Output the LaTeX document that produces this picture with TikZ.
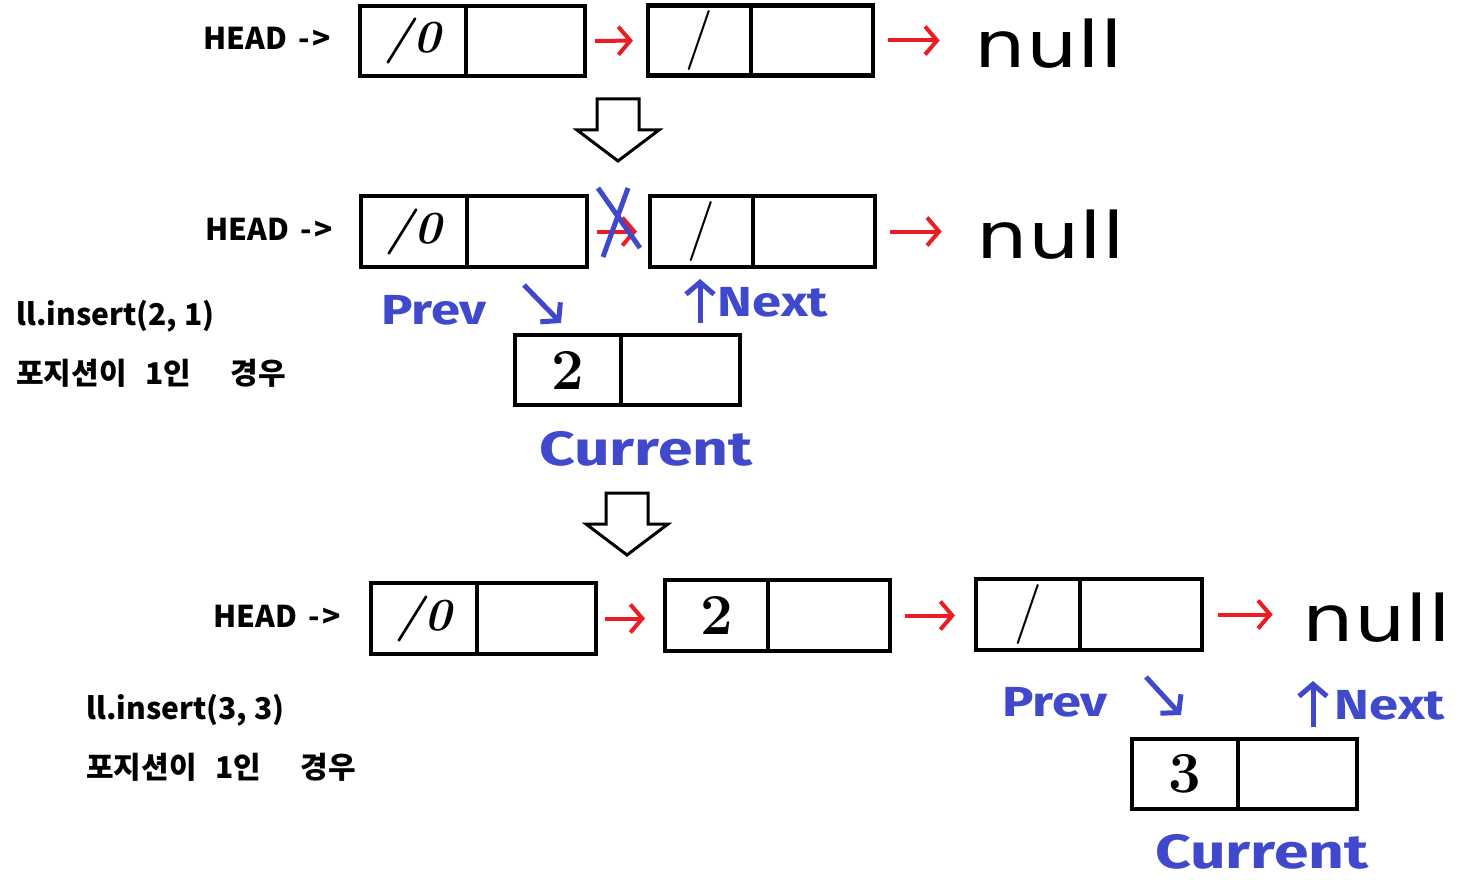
\documentclass[tikz,border=0pt]{standalone}
\usepackage{fontspec}
\newfontfamily\kr{Noto Sans CJK KR}
\newfontfamily\hand{Fira Sans}
\newfontfamily\dv{DejaVu Sans}
\usetikzlibrary{arrows.meta}
\definecolor{pblue}{RGB}{64,72,204}
\definecolor{pred}{RGB}{237,28,36}
\newcommand\bl[1]{\scalebox{1.25}[1]{\hand\bfseries\fontsize{42}{48}\selectfont #1}}
\newcommand\blc[1]{\scalebox{1.3}[1]{\hand\bfseries\fontsize{48}{52}\selectfont #1}}
\newcommand\nl{\scalebox{1.27}[1]{\dv\fontsize{64}{70}\selectfont null}}
\newcommand\lab[1]{{\kr\bfseries\fontsize{30}{36}\selectfont #1}}
\newcommand\headlab{\lab{HEAD\hspace{12pt}-\kern2pt>}}
\newcommand\poslab{\lab{포지션이\hspace{19pt}1인\hspace{39pt}경우}}
\newcommand\val[1]{{\fontsize{46}{50}\selectfont\bfseries #1}}
\newcommand\num[1]{{\fontsize{58}{60}\selectfont\bfseries #1}}
\newcommand\myslash{{\fontsize{60}{60}\selectfont /}}
\begin{document}
\begin{tikzpicture}[x=1pt,y=-1pt,
  cell/.style={draw, line width=4.5pt, outer sep=0pt, inner sep=0pt, minimum height=70pt, anchor=west},
  redarrow/.style={draw=pred, line width=4pt, -{Straight Barb[length=12pt,width=28pt,line width=4pt]}},
  bluearrow/.style={draw=pblue, line width=5pt, -{Straight Barb[length=12pt,width=28pt,line width=5pt]}},
  blockarrow/.style={draw, line width=3pt, fill=white, line join=miter},
  txt/.style={inner sep=0pt, anchor=west},
  blt/.style={inner sep=0pt, text=pblue}]
\useasboundingbox (0,0) rectangle (1472,880);

% ---------- Row 1 ----------
\node[txt] (h1) at (203,38) {\headlab};
\node[cell, minimum width=106pt] (r1aL) at (360,41) {\val{\itshape /0}};
\node[cell, minimum width=119pt] (r1aR) at (r1aL.east) {};
\node[cell, minimum width=103pt] (r1bL) at (648,40.5) {\myslash};
\node[cell, minimum width=122pt] (r1bR) at (r1bL.east) {};
\node[inner sep=0pt] (n1) at (1049,44) {\nl};
\draw[redarrow, shorten <=10pt, shorten >=15pt] (r1aR.east) -- (r1bL.west);
\draw[redarrow, shorten <=15pt, shorten >=35pt] (r1bR.east) -- (n1.west |- r1bR.east);

\draw[blockarrow] (597,99) -- (639,99) -- (639,130) -- (659,130) -- (618,161) -- (577,130) -- (597,130) -- cycle;

% ---------- Row 2 ----------
\node[txt] (h2) at (205,229) {\headlab};
\node[cell, minimum width=106pt, minimum height=71pt] (r2aL) at (361,231.5) {\val{\itshape /0}};
\node[cell, minimum width=120pt, minimum height=71pt] (r2aR) at (r2aL.east) {};
\node[cell, minimum width=103pt, minimum height=71pt] (r2bL) at (650,231.5) {\myslash};
\node[cell, minimum width=122pt, minimum height=71pt] (r2bR) at (r2bL.east) {};
\node[inner sep=0pt] (n2) at (1051,235) {\nl};
\draw[redarrow, shorten <=10pt, shorten >=13pt] (r2aR.east) -- (r2bL.west);
\draw[pblue, line width=5pt] (598,188) -- (640,248);
\draw[pblue, line width=5pt] (628,188) -- (603,257);
\draw[redarrow, shorten <=15pt, shorten >=35pt] (r2bR.east) -- (n2.west |- r2bR.east);

\node[txt] (ins1) at (16,316) {\lab{ll.insert(2, 1)}};
\node[txt] (pos1) at (16,373) {\poslab};

\node[blt] (prev1) at (434,310) {\bl{Prev}};
\coordinate (pa1) at (524,285);
\coordinate (pb1) at (561,323);
\draw[bluearrow] (pa1) -- (pb1);
\coordinate (na1) at (700,323);
\coordinate (nb1) at (700,279);
\draw[bluearrow] (na1) -- (nb1);
\node[blt] (next1) at (773,302) {\bl{Next}};

\node[cell, minimum width=106pt] (c1L) at (515,370) {\num{2}};
\node[cell, minimum width=119pt] (c1R) at (c1L.east) {};
\node[blt] (cur1) at (646,449) {\blc{Current}};

\draw[blockarrow] (606,493) -- (648,493) -- (648,524) -- (668,524) -- (627,555) -- (586,524) -- (606,524) -- cycle;

% ---------- Row 3 ----------
\node[txt] (h3) at (213,616) {\headlab};
\node[cell, minimum width=106pt, minimum height=71pt] (r3aL) at (371,618.5) {\val{\itshape /0}};
\node[cell, minimum width=119pt, minimum height=71pt] (r3aR) at (r3aL.east) {};
\node[cell, minimum width=103pt, minimum height=71pt] (r3bL) at (665,615.5) {\num{2}};
\node[cell, minimum width=122pt, minimum height=71pt] (r3bR) at (r3bL.east) {};
\node[cell, minimum width=104pt, minimum height=71pt] (r3cL) at (976,614.5) {\myslash};
\node[cell, minimum width=122pt, minimum height=71pt] (r3cR) at (r3cL.east) {};
\node[inner sep=0pt] (n3) at (1377,618) {\nl};
\draw[redarrow, shorten <=9pt, shorten >=20pt] (r3aR.east) -- (r3aR.east -| r3bL.west);
\draw[redarrow, shorten <=15pt, shorten >=21pt] (r3bR.east) -- (r3bR.east -| r3cL.west);
\draw[redarrow, shorten <=16pt, shorten >=30pt] (r3cR.east) -- (r3cR.east -| n3.west);

\node[txt] (ins2) at (86,710) {\lab{ll.insert(3, 3)}};
\node[txt] (pos2) at (86,767) {\poslab};

\node[blt] (prev2) at (1055,702) {\bl{Prev}};
\coordinate (pa2) at (1146,677);
\coordinate (pb2) at (1181,715);
\draw[bluearrow] (pa2) -- (pb2);
\coordinate (na2) at (1313,727);
\coordinate (nb2) at (1313,681);
\draw[bluearrow] (na2) -- (nb2);
\node[blt] (next2) at (1390,705) {\bl{Next}};

\node[cell, minimum width=106pt] (c2L) at (1132,774) {\num{3}};
\node[cell, minimum width=119pt] (c2R) at (c2L.east) {};
\node[blt] (cur2) at (1262,852) {\blc{Current}};
\end{tikzpicture}
\end{document}
